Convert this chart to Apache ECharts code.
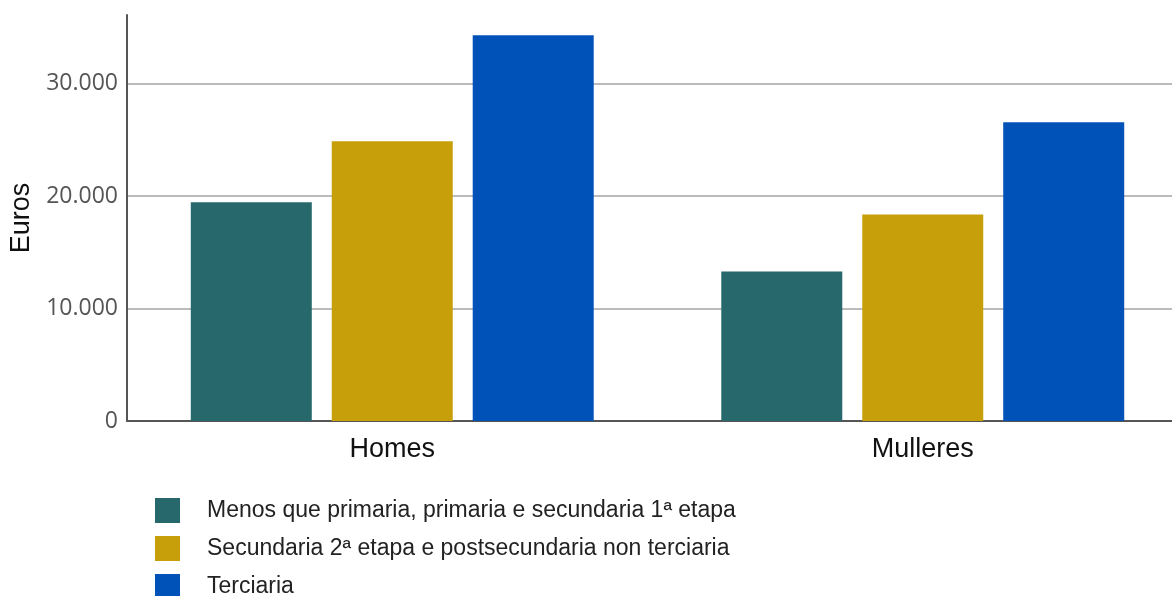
<!DOCTYPE html>
<html>
<head>
<meta charset="utf-8">
<script src="https://cdn.jsdelivr.net/npm/echarts@6/dist/echarts.min.js"></script>
<style>
  html, body { margin: 0; padding: 0; background: #fff; overflow: hidden; }
  #chart { width: 1190px; height: 596px; }
</style>
</head>
<body>
<div id="chart"></div>
<script>
var categories = ['Homes', 'Mulleres'];
var seriesNames = [
  'Menos que primaria, primaria e secundaria 1ª etapa',
  'Secundaria 2ª etapa e postsecundaria non terciaria',
  'Terciaria'
];
var primaria = [19440, 13300];
var secundaria = [24870, 18370];
var terciaria = [34300, 26560];
var colors = ['#27686c', '#c79f0b', '#0052b9'];

var chart = echarts.init(document.getElementById('chart'));

function bar(name, data, color) {
  return {
    name: name,
    type: 'bar',
    data: data,
    barWidth: 121,
    barGap: '16.5%',
    itemStyle: { color: color }
  };
}

chart.setOption({
  animation: false,
  color: colors,
  grid: {
    left: 127,
    top: 15,
    width: 1061,
    height: 406
  },
  legend: {
    orient: 'vertical',
    left: 150,
    top: 493,
    height: 110,
    icon: 'rect',
    itemWidth: 25,
    itemHeight: 25,
    itemGap: 13,
    textStyle: {
      fontFamily: 'Liberation Sans',
      fontSize: 23,
      color: '#222',
      padding: [0, 0, 0, 22]
    },
    data: seriesNames
  },
  xAxis: {
    type: 'category',
    data: categories,
    axisLine: { lineStyle: { color: '#555', width: 2 } },
    axisTick: { show: false },
    axisLabel: {
      margin: 15,
      fontFamily: 'Liberation Sans',
      fontSize: 27,
      color: '#111'
    }
  },
  yAxis: {
    type: 'value',
    min: 0,
    max: 36100,
    interval: 10000,
    name: 'Euros',
    nameLocation: 'middle',
    nameGap: 92,
    nameTextStyle: {
      fontFamily: 'Liberation Sans',
      fontSize: 27,
      color: '#111'
    },
    axisLine: { show: true, lineStyle: { color: '#555', width: 2 } },
    axisTick: { show: false },
    axisLabel: {
      margin: 9,
      showMaxLabel: false,
      fontFamily: 'Open Sans',
      fontSize: 23,
      color: '#555',
      formatter: function (v) {
        return String(v).replace(/\B(?=(\d{3})+(?!\d))/g, '.');
      }
    },
    splitLine: {
      showMinLine: false,
      showMaxLine: false,
      lineStyle: { color: '#bbb', width: 2 }
    }
  },
  series: [
    bar(seriesNames[0], primaria, colors[0]),
    bar(seriesNames[1], secundaria, colors[1]),
    bar(seriesNames[2], terciaria, colors[2])
  ]
});
</script>
</body>
</html>
